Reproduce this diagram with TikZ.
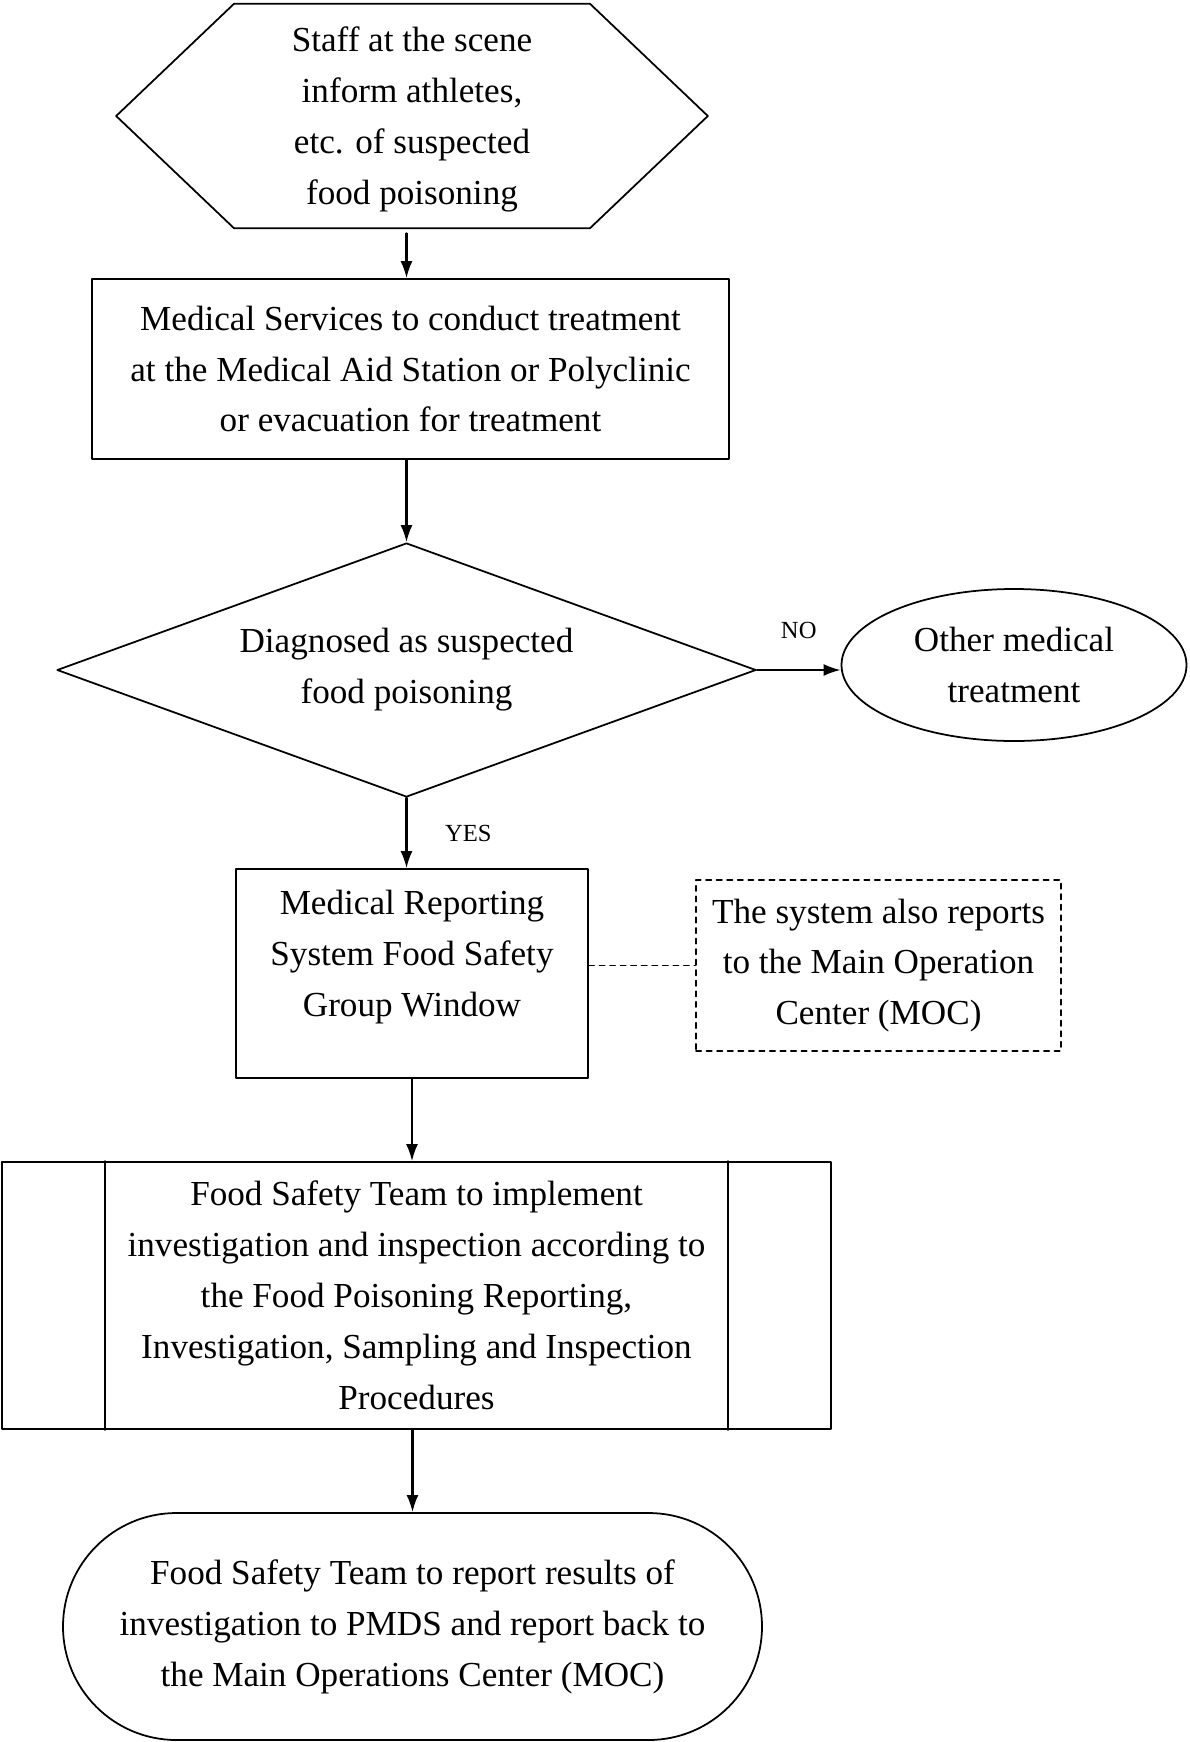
\documentclass[tikz,border=0pt]{standalone}
\usepackage{fontspec}
\setmainfont{Liberation Serif}
\usetikzlibrary{calc,positioning,arrows.meta,shapes.geometric,shapes.misc}

\begin{document}
\begin{tikzpicture}[line cap=round,line join=round,x=1.0cm,y=1.0cm,scale=1]
\tikzset{>={Latex[length=3.4mm,width=2.4mm]}}
\tikzset{every node/.style={font=\fontsize{20}{29}\selectfont, align=center, inner sep=0pt}}
\tikzset{box/.style={draw, line width=1pt}}
\tikzset{flow/.style={->, line width=1.2pt}}
\tikzset{tag/.style={font=\fontsize{14}{16}\selectfont}}
\def\lw{1pt}
\def\hx{2.36}
\def\px{2.08}

\useasboundingbox (0,0) rectangle (23.78,-34.84);

% start hexagon
\node (scene) [minimum width=11.82cm, minimum height=4.48cm] at (8.24,-2.38) {Staff at the scene\\inform athletes,\\etc. of suspected\\food poisoning};
\draw[line width=\lw] ($(scene.north west)+(\hx,0.06)$) -- ($(scene.north east)+(-\hx,0.06)$) -- ([yshift=0.06cm]scene.east)
    -- ($(scene.south east)+(-\hx,0.06)$) -- ($(scene.south west)+(\hx,0.06)$) -- ([yshift=0.06cm]scene.west) -- cycle;

% treatment
\node (medical) [box, minimum width=12.74cm, minimum height=3.6cm] at (8.21,-7.38) {Medical Services to conduct treatment\\at the Medical Aid Station or Polyclinic\\or evacuation for treatment};

% decision
\node (diag) [box, diamond, aspect=2.75, minimum width=13.98cm, minimum height=5.08cm] at (8.13,-13.4) {Diagnosed as suspected\\food poisoning};
\node (other) [box, ellipse, minimum width=6.9cm, minimum height=3.04cm] at (20.28,-13.3) {Other medical\\treatment};

% reporting window
\node (report) [box, minimum width=7.04cm, minimum height=4.18cm] at (8.24,-19.47) {};
\node (reporttext) at ([yshift=0.33cm]report.center) {Medical Reporting\\System Food Safety\\Group Window};
\node (moc) [box, dashed, minimum width=7.3cm, minimum height=3.42cm] at (17.57,-19.31) {The system also reports\\to the Main Operation\\Center (MOC)};

% investigation
\node (proc) [box, minimum width=16.58cm, minimum height=5.34cm] at (8.33,-25.91) {Food Safety Team to implement\\investigation and inspection according to\\the Food Poisoning Reporting,\\Investigation, Sampling and Inspection\\Procedures};
\draw[line width=\lw] ($(proc.north west)+(\px,0)$) -- ($(proc.south west)+(\px,0)$);
\draw[line width=\lw] ($(proc.north east)+(-\px,0)$) -- ($(proc.south east)+(-\px,0)$);

% end
\node (result) [box, rounded rectangle, minimum width=13.98cm, minimum height=4.54cm] at (8.25,-32.53) {Food Safety Team to report results of\\investigation to PMDS and report back to\\the Main Operations Center (MOC)};

% arrows
\draw[flow] ([yshift=-0.04cm]scene.south -| diag.north) -- (diag.north |- medical.north);
\draw[flow] (medical.south -| diag.north) -- (diag.north);
\draw[flow] (diag.east) -- node[tag, above=0.6cm] {NO} (diag.east -| other.west);
\draw[flow] (diag.south) -- node[tag, right=0.75cm] {YES} (diag.south |- report.north);
\draw[line width=\lw, dashed] (report.east |- moc.west) -- (moc.west);
\draw[flow] (report.south) -- (report.south |- proc.north);
\draw[flow] (proc.south -| result.north) -- (result.north);

\end{tikzpicture}
\end{document}
